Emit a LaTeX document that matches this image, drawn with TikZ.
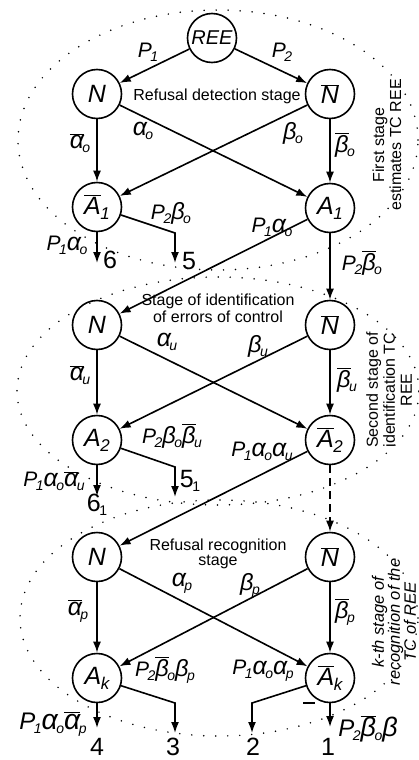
\documentclass[tikz,border=0pt]{standalone}
\usepackage{fontspec}
\usepackage{graphicx}
\setmainfont{Liberation Sans}
\usetikzlibrary{arrows.meta}
\newcommand{\ob}[1]{$\overline{\hbox{#1}}$}
\newcommand{\ga}{\scalebox{1.18}{α}}
\newcommand{\gb}{\scalebox{1.12}{β}}
\newcommand{\dn}[1]{\kern-1.5pt\raisebox{-4pt}{\fontsize{14}{14}\selectfont #1}}
\newcommand{\cdn}[1]{\kern-0.5pt\raisebox{-5pt}{\fontsize{17}{17}\selectfont #1}}
\begin{document}
\begin{tikzpicture}[x=1pt,y=-1pt,
  st/.style={draw, circle, line width=1.6pt, minimum size=49pt, inner sep=0pt, font=\fontsize{25}{25}\selectfont\itshape},
  ar/.style={line width=1.6pt, -{Latex[length=11pt,width=8pt]}},
  dsh/.style={ar, dash pattern=on 8pt off 5pt},
  lab/.style={inner sep=0pt, font=\fontsize{21}{21}\selectfont\itshape},
  blab/.style={inner sep=0pt, font=\fontsize{24}{24}\selectfont\itshape},
  num/.style={inner sep=0pt, font=\fontsize{25}{25}\selectfont},
  txt/.style={inner sep=0pt, align=center, font=\fontsize{16}{17}\selectfont},
  dots/.style={line width=1.7pt, line cap=round, dash pattern=on 0pt off 12pt}
]
\useasboundingbox (0,0) rectangle (419,760);
% dotted stage ellipses
\draw[dots] (218,140) ellipse [x radius=200pt, y radius=130pt];
\draw[dots] (218,391) ellipse [x radius=201pt, y radius=114pt];
\draw[dots] (219,618) ellipse [x radius=199pt, y radius=118pt];
% states
\node[st] (REE) at (212,38) {\fontsize{20}{20}\selectfont REE};
\node[st] (N1) at (97,94) {N};
\node[st] (Nb1) at (330,94) {\ob{N}};
\node[st] (Ab1) at (97,207) {\ob{A}\cdn{1}};
\node[st] (A1) at (330,208) {A\cdn{1}};
\node[st] (N2) at (97,325) {N};
\node[st] (Nb2) at (330,325) {\ob{N}};
\node[st] (A2) at (97,440) {A\cdn{2}};
\node[st] (Ab2) at (330,440) {\ob{A}\cdn{2}};
\node[st] (N3) at (97,557) {N};
\node[st] (Nb3) at (330,557) {\ob{N}};
\node[st] (Ak) at (97,678) {A\cdn{k}};
\node[st] (Abk) at (330,678) {\ob{A}\cdn{k}};
% free ends
\coordinate (e6) at (97,263);
\coordinate (b5) at (175,233);
\coordinate (e5) at (175,263);
\coordinate (e61) at (97,496);
\coordinate (b51) at (175,467);
\coordinate (e51) at (175,497);
\coordinate (e4) at (97,728);
\coordinate (b3) at (175,703);
\coordinate (e3) at (175,733);
\coordinate (b2) at (252,703);
\coordinate (e2) at (252,733);
\coordinate (e1) at (330,727);
% stage 1
\draw[ar] (REE) -- (N1);
\draw[ar] (REE) -- (Nb1);
\draw[ar] (N1) -- (Ab1);
\draw[ar] (N1) -- (A1);
\draw[ar] (Nb1) -- (Ab1);
\draw[ar] (Nb1) -- (A1);
\draw[ar] (Ab1) -- (e6);
\draw[ar] (Ab1) -- (b5) -- (e5);
\draw[ar] (A1) -- (N2);
\draw[ar] (A1) -- (Nb2);
% stage 2
\draw[ar] (N2) -- (A2);
\draw[ar] (N2) -- (Ab2);
\draw[ar] (Nb2) -- (A2);
\draw[ar] (Nb2) -- (Ab2);
\draw[ar] (A2) -- (e61);
\draw[ar] (A2) -- (b51) -- (e51);
\draw[ar] (Ab2) -- (N3);
\draw[dsh] (Ab2) -- (Nb3);
% stage 3
\draw[ar] (N3) -- (Ak);
\draw[ar] (N3) -- (Abk);
\draw[ar] (Nb3) -- (Ak);
\draw[ar] (Nb3) -- (Abk);
\draw[ar] (Ak) -- (e4);
\draw[ar] (Ak) -- (b3) -- (e3);
\draw[ar] (Abk) -- (b2) -- (e2);
\draw[ar] (Abk) -- (e1);
% labels stage 1
\node[lab] (lP1) at (148,52) {P\dn{1}};
\node[lab] (lP2) at (282,52) {P\dn{2}};
\node[txt] (t1) at (217,96) {Refusal detection stage};
\node[lab] (la1) at (143,131) {\ga\dn{o}};
\node[lab] (lb1) at (293,133) {\gb\dn{o}};
\node[lab] (lab1) at (80,143) {\ob{\ga}\dn{o}};
\node[lab] (lbb1) at (345,145) {\ob{\gb}\dn{o}};
\node[lab] (l11) at (171,213) {P\dn{2}\gb\dn{o}};
\node[lab] (l12) at (67,245) {P\dn{1}\ga\dn{o}};
\node[num] (n6) at (110,260) {6};
\node[num] (n5) at (189,261) {5};
\node[lab] (l13) at (272,227) {P\dn{1}\ga\dn{o}};
\node[lab] (l14) at (362,263) {P\dn{2}\ob{\gb}\dn{o}};
\node[txt,rotate=90] (s1) at (387,145) {First stage\\estimates TC REE};
% labels stage 2
\node[txt] (t2) at (218,308) {Stage of identification\\of errors of control};
\node[lab] (la2) at (167,342) {\ga\dn{u}};
\node[lab] (lb2) at (258,346) {\gb\dn{u}};
\node[lab] (lab2) at (80,375) {\ob{\ga}\dn{u}};
\node[lab] (lbb2) at (347,380) {\ob{\gb}\dn{u}};
\node[lab] (l21) at (172,436) {P\dn{2}\gb\dn{o}\ob{\gb}\dn{u}};
\node[lab] (l22) at (262,451) {P\dn{1}\ga\dn{o}\ga\dn{u}};
\node[lab] (l23) at (54,481) {P\dn{1}\ga\dn{o}\ob{\ga}\dn{u}};
\node[num] (n61) at (97,505) {6\dn{1}};
\node[num] (n51) at (190,481) {5\dn{1}};
\node[txt,rotate=90] (s2) at (389,390) {Second stage of\\identification TC\\REE};
% labels stage 3
\node[txt,font=\fontsize{16}{15}\selectfont] (t3) at (218,554) {Refusal recognition\\stage};
\node[lab] (la3) at (182,583) {\ga\dn{p}};
\node[lab] (lb3) at (250,585) {\gb\dn{p}};
\node[lab] (lab3) at (78,611) {\ob{\ga}\dn{p}};
\node[lab] (lbb3) at (345,612) {\ob{\gb}\dn{p}};
\node[lab] (l31) at (165,670) {P\dn{2}\ob{\gb}\dn{o}\gb\dn{p}};
\node[lab] (l32) at (263,671) {P\dn{1}\ga\dn{o}\ga\dn{p}};
\node[blab] (l33) at (53,724) {P\dn{1}\ga\dn{o}\ob{\ga}\dn{p}};
\node[blab] (l34) at (368,729) {P\dn{2}\ob{\gb}\dn{o}\gb};
\node[inner sep=0pt] (bar) at (309,703) {\rule{12pt}{1.8pt}};
\node[num] (n4) at (97,747) {4};
\node[num] (n3) at (173,747) {3};
\node[num] (n2) at (253,747) {2};
\node[num] (n1) at (328,747) {1};
\node[txt,rotate=90,font=\fontsize{16.5}{16}\selectfont\itshape] (s3) at (394,622) {k-th stage of\\recognition of the\\TC of REE};
\end{tikzpicture}
\end{document}
